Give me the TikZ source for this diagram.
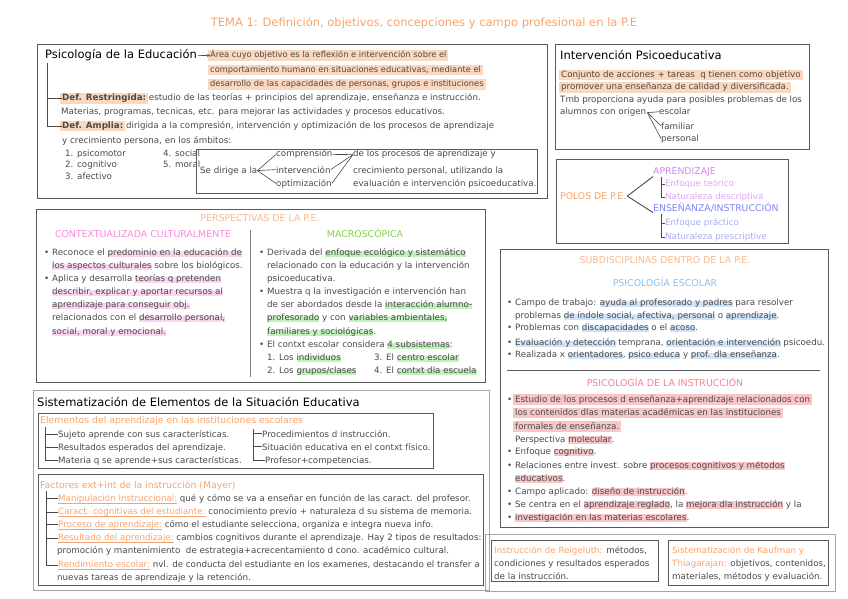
\documentclass[tikz,border=0pt]{standalone}
\usepackage{fontspec}
\setmainfont{DejaVu Sans}
\usetikzlibrary{arrows.meta}
\definecolor{txt}{HTML}{4A4A4A}
\definecolor{ttl}{HTML}{F7A46C}
\definecolor{ttlL}{HTML}{F9B88E}
\definecolor{orT}{HTML}{F7A46C}
\definecolor{hlO}{HTML}{FBD7BE}
\definecolor{pinkT}{HTML}{F58BDA}
\definecolor{hlP}{HTML}{F9D6EE}
\definecolor{greenT}{HTML}{8ACF4E}
\definecolor{hlG}{HTML}{C3F1BE}
\definecolor{blueT}{HTML}{86C2F2}
\definecolor{hlB}{HTML}{D0E4F8}
\definecolor{redT}{HTML}{F2838B}
\definecolor{hlR}{HTML}{F9C6C8}
\definecolor{purT}{HTML}{D783F2}
\definecolor{purL}{HTML}{DFA5F2}
\definecolor{bvT}{HTML}{8185F2}
\definecolor{bvL}{HTML}{A9ABF5}
\definecolor{frm}{HTML}{5A5A5A}
\newcommand\hlF[2]{\setbox0\hbox{#2}\leavevmode\rlap{\kern-2pt\textcolor{#1}{\rule[-2.6pt]{\dimexpr\wd0+4pt\relax}{10.4pt}}}\box0\relax}
\newcommand\hlH[2]{\setbox0\hbox{#2}\leavevmode\rlap{\textcolor{#1}{\rule[-1.6pt]{\wd0}{5.8pt}}}\box0\relax}
\newcommand\hlM[2]{\setbox0\hbox{#2}\leavevmode\rlap{\textcolor{#1}{\rule[-1.8pt]{\wd0}{7.6pt}}}\box0\relax}
\newcommand\ulO[1]{\setbox0\hbox{\textcolor{orT}{#1}}\leavevmode\rlap{\textcolor{orT}{\rule[-2.2pt]{\wd0}{0.5pt}}}\box0\relax}
\newcommand\bul{\llap{\textbullet\kern3pt}}
\tikzset{
  tx/.style={anchor=base west, inner sep=0pt, text=txt, font=\fontsize{8.7}{10}\selectfont},
  txb/.style={tx, font=\fontsize{8.7}{10}\selectfont},
  txs/.style={tx, font=\fontsize{8.3}{9}\selectfont},
  cx/.style={anchor=base, inner sep=0pt, font=\fontsize{9.4}{11}\selectfont},
  hd/.style={anchor=base west, inner sep=0pt, text=black, font=\fontsize{11.5}{13}\selectfont},
  sh/.style={tx, text=orT, font=\fontsize{9.3}{11}\selectfont},
  frame/.style={draw=frm, line width=0.9pt},
  oframe/.style={draw=gray!70, line width=1pt},
  ln/.style={draw=txt, line width=0.6pt}
}
\begin{document}
\begin{tikzpicture}[x=1pt,y=-1pt]
\path[use as bounding box] (0,0) rectangle (848,599);
\fill[white] (0,0) rectangle (848,599);

% Title
\node[anchor=base, inner sep=0pt, text=ttl, font=\fontsize{11.5}{13}\selectfont] (title) at (424,27) {TEMA 1: Definición, objetivos, concepciones y campo profesional en la P.E};

% ===== Box 1: Psicología de la Educación
\draw[frame] (37,44) rectangle (547,198);
\node[hd] (psi) at (45,59) {Psicología de la Educación};
\node[txs] (a1) at (210,58) {\hlF{hlO}{Área cuyo objetivo es la reflexión e intervención sobre el}};
\node[txs] (a2) at (210,72.5) {\hlF{hlO}{comportamiento humano en situaciones educativas, mediante el}};
\node[txs] (a3) at (210,87) {\hlF{hlO}{desarrollo de las capacidades de personas, grupos e instituciones}};
\draw[ln,-{Stealth[length=3pt,width=3pt]}] ([xshift=1pt]psi.east) -- (a1.west);
\node[txb] (dr) at (62,101) {\hlF{hlO}{\textbf{Def. Restringida:}} estudio de las teorías + principios del aprendizaje, enseñanza e instrucción.};
\node[txb] (mat) at (61,115) {Materias, programas, tecnicas, etc. para mejorar las actividades y procesos educativos.};
\node[txb] (da) at (62,128.5) {\hlF{hlO}{\textbf{Def. Amplia:}} dirigida a la compresión, intervención y optimización de los procesos de aprendizaje};
\node[txb] (yc) at (62,143) {y crecimiento persona, en los ámbitos:};
\coordinate (pt) at (47,63);
\draw[ln] (pt) |- (dr.west);
\draw[ln] (pt) |- (da.west);
\node[tx] (m1) at (65,156) {1. psicomotor};
\node[tx] (m2) at (65,167.5) {2. cognitivo};
\node[tx] (m3) at (65,179) {3. afectivo};
\node[tx] (m4) at (163,156) {4. social};
\node[tx] (m5) at (163,167.5) {5. moral};
\draw[frame, line width=0.8pt] (196,149) rectangle (537,193);
\node[tx] (sd) at (200,173) {Se dirige a la};
\node[tx] (comp) at (276,157) {comprensión};
\node[tx] (inter) at (276,173) {intervención};
\node[tx] (opt) at (276,186) {optimización};
\draw[ln] (sd.east) -- (comp.west);
\draw[ln] (sd.east) -- (inter.west);
\draw[ln] (sd.east) -- (opt.west);
\node[tx] (dl) at (353,157) {de los procesos de aprendizaje y};
\node[tx] (cp) at (353,173) {crecimiento personal, utilizando la};
\node[tx] (ev) at (353,186) {evaluación e intervención psicoeducativa.};
\draw[ln] (comp.east) -- (dl.west);
\draw[ln] (inter.east) -- (dl.west);
\draw[ln] (opt.east) -- (dl.west);

% ===== Intervención Psicoeducativa
\draw[frame] (555,44) rectangle (809,149);
\node[hd] (ip) at (560,60) {Intervención Psicoeducativa};
\node[tx] (c1) at (561,77.5) {\hlF{hlO}{Conjunto de acciones + tareas\ \ q tienen como objetivo}};
\node[tx] (c2) at (561,90) {\hlF{hlO}{promover una enseñanza de calidad y diversificada.}};
\node[tx] (c3) at (560,102.5) {Tmb proporciona ayuda para posibles problemas de los};
\node[tx] (aco) at (560,115) {alumnos con origen};
\node[tx] (esc) at (659,115) {escolar};
\node[tx] (fam) at (661,129) {familiar};
\node[tx] (per) at (661,141) {personal};
\draw[ln] ([xshift=1pt]aco.east) -- (esc.west);
\draw[ln] ([xshift=1pt]aco.east) -- (fam.west);
\draw[ln] ([xshift=1pt]aco.east) -- (per.west);

% ===== Polos
\draw[frame] (556,159) rectangle (788,243);
\node[tx, text=orT, font=\fontsize{9.3}{11}\selectfont] (pol) at (560,199.5) {POLOS DE P.E.};
\node[tx, text=purT, font=\fontsize{9.3}{11}\selectfont] (apr) at (653,174.5) {APRENDIZAJE};
\node[tx, text=purL] (et) at (665,186.5) {Enfoque teórico};
\node[tx, text=purL] (nd) at (665,199.5) {Naturaleza descriptiva};
\node[tx, text=bvT, font=\fontsize{9.3}{11}\selectfont] (ens) at (653,211.5) {ENSEÑANZA/INSTRUCCIÓN};
\node[tx, text=bvL] (ep) at (665,225.5) {Enfoque práctico};
\node[tx, text=bvL] (np) at (665,239.5) {Naturaleza prescriptive};
\draw[ln, line width=0.9pt] ([xshift=1pt]pol.east) -- (apr.south west);
\draw[ln, line width=0.9pt] ([xshift=1pt]pol.east) -- (ens.south west);
\coordinate (pa) at (661,177);
\coordinate (pe) at (661,214);
\draw[ln] (pa) |- (et.west);
\draw[ln] (pa) |- (nd.west);
\draw[ln] (pe) |- (ep.west);
\draw[ln] (pe) |- (np.west);

% ===== Perspectivas
\draw[frame] (36,209) rectangle (485,382);
\node[cx, text=ttlL] (pers) at (260,221) {PERSPECTIVAS DE LA P.E.};
\node[cx, text=pinkT] (ctx) at (143,237.5) {CONTEXTUALIZADA CULTURALMENTE};
\node[cx, text=greenT] (mac) at (365,237.5) {MACROSCÓPICA};
\coordinate (dv1) at (250,230);
\coordinate (dv2) at (250,377);
\draw[draw=gray, line width=0.8pt] (dv1) -- (dv2);
\node[tx] (l1) at (52,255) {\bul Reconoce el \hlH{hlP}{predominio en la educación de}};
\node[tx] (l2) at (52,268) {\hlH{hlP}{los aspectos culturales} sobre los biológicos.};
\node[tx] (l3) at (52,281) {\bul Aplica y desarrolla \hlH{hlP}{teorías q pretenden}};
\node[tx] (l4) at (52,294) {\hlH{hlP}{describir, explicar y aportar recursos al}};
\node[tx] (l5) at (52,307) {\hlH{hlP}{aprendizaje para conseguir obj.}};
\node[tx] (l6) at (52,320) {relacionados con el \hlH{hlP}{desarrollo personal,}};
\node[tx] (l7) at (52,334) {\hlH{hlP}{social, moral y emocional.}};
\node[tx] (r1) at (267,255) {\bul Derivada del \hlH{hlG}{enfoque ecológico y sistemático}};
\node[tx] (r2) at (267,268) {relacionado con la educación y la intervención};
\node[tx] (r3) at (267,281) {psicoeducativa.};
\node[tx] (r4) at (267,294) {\bul Muestra q la investigación e intervención han};
\node[tx] (r5) at (267,307) {de ser abordados desde la \hlH{hlG}{interacción alumno-}};
\node[tx] (r6) at (267,320) {\hlH{hlG}{profesorado} y con \hlH{hlG}{variables ambientales,}};
\node[tx] (r7) at (267,334) {\hlH{hlG}{familiares y sociológicas}.};
\node[tx] (r8) at (267,347) {\bul El contxt escolar considera \hlH{hlG}{4 subsistemas}:};
\node[tx] (r9) at (267,360) {1. Los \hlH{hlG}{individuos}};
\node[tx] (r9b) at (374,360) {3. El \hlH{hlG}{centro escolar}};
\node[tx] (r10) at (267,373) {2. Los \hlH{hlG}{grupos/clases}};
\node[tx] (r10b) at (374,373) {4. El \hlH{hlG}{contxt dla escuela}};

% ===== Subdisciplinas
\draw[frame] (500,249) rectangle (828,527);
\node[cx, text=ttlL] (sub) at (665,263) {SUBDISCIPLINAS DENTRO DE LA P.E.};
\node[cx, text=blueT] (pes) at (665,286.5) {PSICOLOGÍA ESCOLAR};
\node[tx] (e1) at (515,305) {\bul Campo de trabajo: \hlH{hlB}{ayuda al profesorado y padres} para resolver};
\node[tx] (e2) at (515,318) {problemas \hlH{hlB}{de índole social, afectiva, personal} o \hlH{hlB}{aprendizaje}.};
\node[tx] (e3) at (515,330.5) {\bul Problemas con \hlH{hlB}{discapacidades} o el \hlH{hlB}{acoso}.};
\node[tx] (e4) at (515,345) {\bul \hlH{hlB}{Evaluación y detección} temprana, \hlH{hlB}{orientación e intervención} psicoedu.};
\node[tx] (e5) at (515,357.5) {\bul Realizada x \hlH{hlB}{orientadores}, \hlH{hlB}{psico educa} y \hlH{hlB}{prof. dla enseñanza}.};
\coordinate (sp1) at (507,370);
\coordinate (sp2) at (820,370);
\draw[draw=frm, line width=0.8pt] (sp1) -- (sp2);
\node[cx, text=redT] (pin) at (665,386.5) {PSICOLOGÍA DE LA INSTRUCCIÓN};
\node[tx] (i1) at (515,402) {\bul\hlF{hlR}{Estudio de los procesos d enseñanza+aprendizaje relacionados con}};
\node[tx] (i2) at (515,415.5) {\hlF{hlR}{los contenidos dlas materias académicas en las instituciones}};
\node[tx] (i3) at (515,429) {\hlF{hlR}{formales de enseñanza.}};
\node[tx] (i4) at (515,442) {Perspectiva \hlM{hlR}{molecular}.};
\node[tx] (i5) at (515,454.5) {\bul Enfoque \hlM{hlR}{cognitivo}.};
\node[tx] (i6) at (515,468) {\bul Relaciones entre invest. sobre \hlM{hlR}{procesos cognitivos y métodos}};
\node[tx] (i7) at (515,481) {\hlM{hlR}{educativos}.};
\node[tx] (i8) at (515,494) {\bul Campo aplicado: \hlM{hlR}{diseño de instrucción}.};
\node[tx] (i9) at (515,507) {\bul Se centra en el \hlM{hlR}{aprendizaje reglado}, la \hlM{hlR}{mejora dla instrucción} y la};
\node[tx] (i10) at (515,520) {\bul\hlM{hlR}{investigación en las materias escolares}.};

% ===== Bottom right
\draw[oframe] (485,534) rectangle (835,591);
\draw[frame] (491,540) rectangle (658,581);
\draw[frame] (668,540) rectangle (828,585);
\node[tx] (rg1) at (494,553) {\textcolor{orT}{Instrucción de Reigeluth:} métodos,};
\node[tx] (rg2) at (494,566) {condiciones y resultados esperados};
\node[tx] (rg3) at (494,579) {de la instrucción.};
\node[tx] (kf1) at (672,553) {\textcolor{orT}{Sistematización de Kaufman y}};
\node[tx] (kf2) at (672,566) {\textcolor{orT}{Thiagarajan:} objetivos, contenidos,};
\node[tx] (kf3) at (672,579) {materiales, métodos y evaluación.};

% ===== Sistematización
\draw[oframe] (33,390) rectangle (489,590);
\node[hd] (sis) at (37,406) {Sistematización de Elementos de la Situación Educativa};
\draw[frame] (38,413) rectangle (433,468);
\node[sh] (ele) at (40,423.5) {Elementos del aprendizaje en las instituciones escolares};
\node[tx] (s1) at (58,437) {Sujeto aprende con sus características.};
\node[tx] (s2) at (58,450) {Resultados esperados del aprendizaje.};
\node[tx] (s3) at (58,463) {Materia q se aprende+sus características.};
\node[tx] (s4) at (262,437) {Procedimientos d instrucción.};
\node[tx] (s5) at (262,450) {Situación educativa en el contxt físico.};
\node[tx] (s6) at (265,463) {Profesor+competencias.};
\coordinate (el) at (45,427);
\coordinate (er) at (253,429);
\draw[ln] (el) |- (s1.west);
\draw[ln] (el) |- (s2.west);
\draw[ln] (el) |- (s3.west);
\draw[ln] (er) |- (s4.west);
\draw[ln] (er) |- (s5.west);
\draw[ln] (er) |- (s6.west);

\draw[frame] (38,474) rectangle (483,585);
\node[sh] (fac) at (40,488) {Factores ext+int de la instrucción (Mayer)};
\node[tx] (f1) at (58,501) {\ulO{Manipulación Instruccional:} qué y cómo se va a enseñar en función de las caract. del profesor.};
\node[tx] (f2) at (58,514.5) {\ulO{Caract. cognitivas del estudiante:} conocimiento previo + naturaleza d su sistema de memoria.};
\node[tx] (f3) at (58,527) {\ulO{Proceso de aprendizaje:} cómo el estudiante selecciona, organiza e integra nueva info.};
\node[tx] (f4) at (58,540) {\ulO{Resultado del aprendizaje:} cambios cognitivos durante el aprendizaje. Hay 2 tipos de resultados:};
\node[tx] (f5) at (57,553.5) {promoción y mantenimiento\ \ de estrategia+acrecentamiento d cono. académico cultural.};
\node[tx] (f6) at (58,567) {\ulO{Rendimiento escolar:} nvl. de conducta del estudiante en los examenes, destacando el transfer a};
\node[tx] (f7) at (57,580) {nuevas tareas de aprendizaje y la retención.};
\coordinate (ft) at (46,491);
\draw[ln] (ft) |- (f1.west);
\draw[ln] (ft) |- (f2.west);
\draw[ln] (ft) |- (f3.west);
\draw[ln] (ft) |- (f4.west);
\draw[ln] (ft) |- (f6.west);
\end{tikzpicture}
\end{document}
